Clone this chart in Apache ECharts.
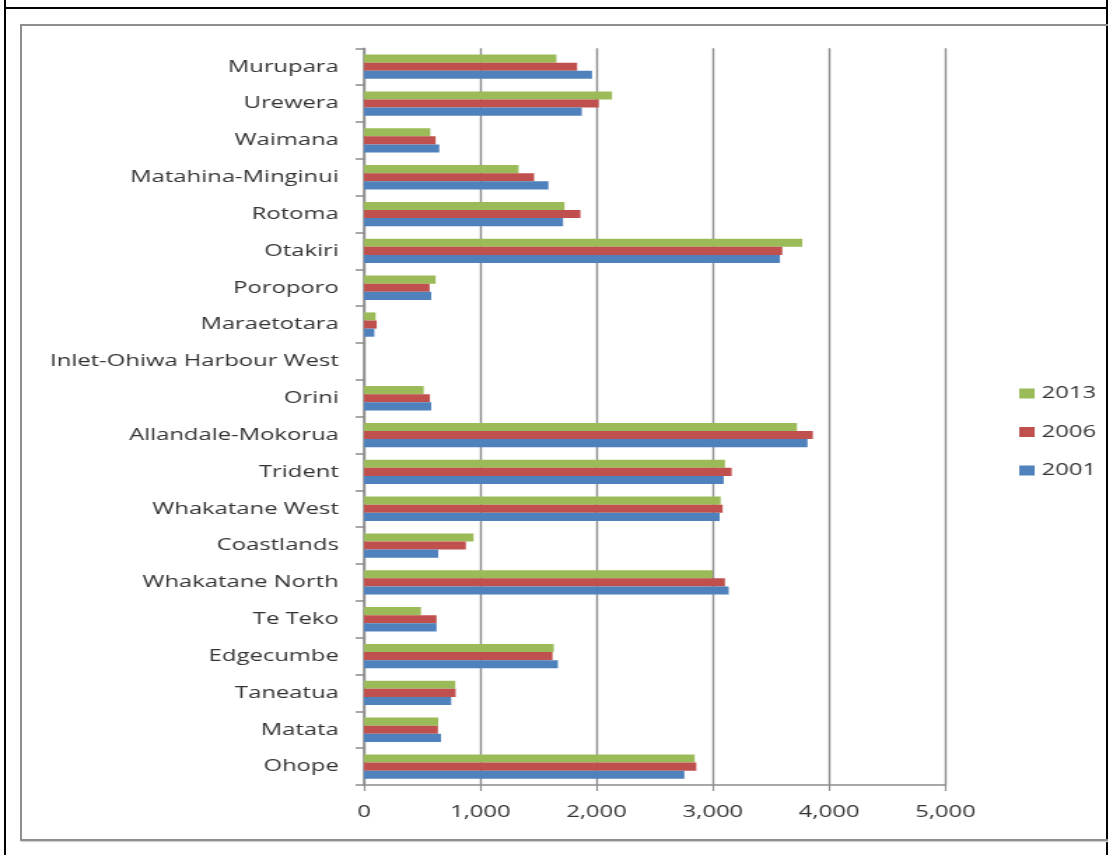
<!DOCTYPE html>
<html>
<head>
<meta charset="utf-8">
<script src="https://cdn.jsdelivr.net/npm/echarts@6/dist/echarts.min.js"></script>
<style>
  html, body { margin: 0; padding: 0; background: #fff; width: 1108px; height: 855px; overflow: hidden; }
  .ln { position: absolute; }
  #wrap { position: absolute; left: 0; top: 0; width: 791.43px; height: 855px; transform: scaleX(1.4); transform-origin: 0 0; }
  #chart { width: 791.43px; height: 855px; }
</style>
</head>
<body>
<div class="ln" style="left:4px;top:0;width:2px;height:855px;background:#000;"></div>
<div class="ln" style="left:4px;top:7px;width:1104px;height:2px;background:#000;"></div>
<div class="ln" style="left:1106px;top:0;width:2px;height:855px;background:#000;"></div>
<div class="ln" style="left:20px;top:24px;width:1086px;height:813px;border:2px solid #8e8e8e;border-right:none;box-shadow:1px 1px 1px #d0d0d0;"></div>
<div id="wrap"><div id="chart"></div></div>
<script>
// Categories listed bottom to top
var categories = ['Ohope', 'Matata', 'Taneatua', 'Edgecumbe', 'Te Teko', 'Whakatane North', 'Coastlands',
  'Whakatane West', 'Trident', 'Allandale-Mokorua', 'Orini', 'Inlet-Ohiwa Harbour West', 'Maraetotara',
  'Poroporo', 'Otakiri', 'Rotoma', 'Matahina-Minginui', 'Waimana', 'Urewera', 'Murupara'];
var values2001 = [2755, 662, 750, 1667, 624, 3136, 638, 3058, 3093, 3814, 578, 0, 89, 578, 3577, 1712, 1586, 647, 1873, 1961];
var values2006 = [2858, 636, 788, 1621, 624, 3104, 876, 3084, 3162, 3860, 567, 0, 109, 564, 3597, 1861, 1463, 616, 2019, 1833];
var values2013 = [2844, 638, 785, 1632, 490, 2998, 942, 3067, 3104, 3723, 513, 0, 100, 616, 3769, 1724, 1329, 570, 2133, 1655];
var xTickLabels = ['0', '1,000', '2,000', '3,000', '4,000', '5,000'];
var legendOrder = ['2013', '2006', '2001'];

var chart = echarts.init(document.getElementById('chart'));
var font = '"Open Sans", "DejaVu Sans", sans-serif';
chart.setOption({
  animation: false,
  textStyle: { fontFamily: font },
  grid: { left: 260, right: 115.7, top: 48.3, bottom: 70, containLabel: false },
  legend: {
    data: legendOrder,
    orient: 'vertical',
    left: 723,
    top: 380,
    itemWidth: 11,
    itemHeight: 10,
    itemGap: 21.5,
    icon: 'rect',
    textStyle: { fontSize: 17, color: '#333', fontFamily: font }
  },
  xAxis: {
    type: 'value',
    min: 0, max: 5000, interval: 1000,
    axisLine: { show: true, lineStyle: { color: '#8c8c8c', width: 1.5 } },
    axisTick: { show: true, length: 6, lineStyle: { color: '#8c8c8c', width: 1.2 } },
    splitLine: { show: true, lineStyle: { color: '#8c8c8c', width: 1.4 } },
    axisLabel: {
      margin: 19, fontSize: 17, color: '#333', fontFamily: font,
      formatter: function (v) { return xTickLabels[Math.round(v / 1000)]; }
    }
  },
  yAxis: {
    type: 'category',
    data: categories,
    axisLine: { show: true, lineStyle: { color: '#8c8c8c', width: 1.5 } },
    axisTick: { show: true, length: 6, lineStyle: { color: '#8c8c8c', width: 1.5 } },
    axisLabel: { margin: 18, fontSize: 17, color: '#333', fontFamily: font }
  },
  series: [
    { name: '2013', type: 'bar', data: values2013, itemStyle: { color: '#9BBB59' }, barGap: '0%', barCategoryGap: '34%' },
    { name: '2006', type: 'bar', data: values2006, itemStyle: { color: '#C0504D' }, barGap: '0%', barCategoryGap: '34%' },
    { name: '2001', type: 'bar', data: values2001, itemStyle: { color: '#4F81BD' }, barGap: '0%', barCategoryGap: '34%' }
  ]
});
</script>
</body>
</html>
